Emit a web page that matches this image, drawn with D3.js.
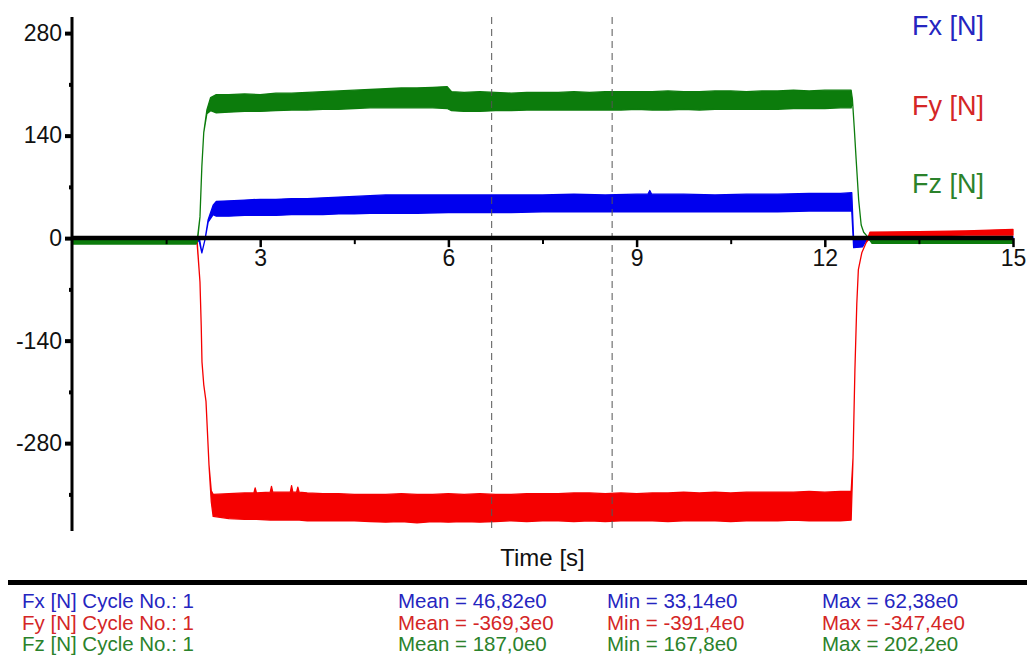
<!DOCTYPE html>
<html>
<head>
<meta charset="utf-8">
<script src="https://cdn.jsdelivr.net/npm/d3@7"></script>
<style>
  body { margin: 0; background: #fff; }
  svg { display: block; font-family: "Liberation Sans", Arial, sans-serif; }
</style>
</head>
<body>
<div id="chart"></div>
<script>
// ticks
const xTicks = [3, 6, 9, 12, 15];
const xMinorTicks = [1.5, 4.5, 7.5, 10.5, 13.5];
const yTicks = [-280, -140, 0, 140, 280];
const yMinorTicks = [-350, -210, -70, 70, 210];
const cursorTimes = [6.69, 8.61];

// Fx: envelope (upper / lower) of the noisy trace
const fxTime = [0, 1.99, 2.03, 2.07, 2.12, 2.17, 2.25, 2.3,
  2.5, 2.75, 3.0, 3.25, 3.5, 3.75, 4.0, 4.25, 4.5, 4.75, 5.0,
  5.5, 6.0, 6.5, 7.0, 7.5, 8.0, 8.5, 9.0, 9.18, 9.21, 9.24,
  9.75, 10.25, 10.75, 11.25, 11.75, 12.25, 12.43, 12.46, 12.60, 12.66, 12.75, 15];
const fxHigh = [2, 2, 0, -20, -2, 25, 45, 50,
  51, 52, 53, 53, 54, 54, 55, 56, 57, 58, 59,
  59, 59, 59, 59, 59, 60, 59, 60, 60, 65, 60,
  60, 59, 60, 60, 61, 61, 62, -3, -3, 0, 2, 2];
const fxLow = [-2, -2, -5, -20, -2, 22, 32, 30,
  30, 31, 31, 31, 32, 32, 32, 33, 33, 34, 34,
  34, 35, 35, 35, 36, 36, 36, 36, 36, 36, 36,
  36, 36, 36, 36, 37, 37, 37, -13, -12, -3, -2, -2];

// Fy
const fyTime = [0, 1.99, 2.025, 2.04, 2.06, 2.072, 2.10, 2.136, 2.184, 2.22, 2.25,
  2.5, 2.75, 2.90, 2.92, 2.94, 3.16, 3.18, 3.20, 3.48, 3.5, 3.52, 3.58, 3.6, 3.62,
  3.75, 4.0, 4.25, 4.5, 4.75, 5.0, 5.25, 5.5, 5.75, 6.0, 6.25, 6.5, 6.75, 7.0, 7.25, 7.5,
  7.75, 8.0, 8.25, 8.5, 8.75, 9.0, 9.25, 9.5, 9.75, 10.0, 10.25, 10.5, 10.75, 11.0, 11.25,
  11.5, 11.75, 12.0, 12.25, 12.42,
  12.45, 12.48, 12.51, 12.535, 12.59, 12.66, 12.72, 13.5, 14.25, 15];
const fyHigh = [2, 2, -42, -60, -120, -169, -200, -223, -310, -345, -350,
  -349, -348, -348, -341, -348, -347, -339, -347, -347, -338, -347, -347, -340, -347,
  -348, -349, -349, -350, -350, -350, -349, -350, -350, -349, -350, -349, -350, -350, -349, -349,
  -349, -348, -348, -349, -348, -349, -348, -348, -347, -348, -347, -348, -347, -347, -347,
  -347, -346, -347, -346, -346,
  -300, -180, -90, -43, -20, -6, 8, 9, 10, 12];
const fyLow = [-2, -2, -42, -60, -120, -169, -200, -223, -310, -360, -380,
  -383, -384, -384, -384, -384, -385, -385, -385, -385, -385, -385, -385, -385, -385,
  -386, -386, -386, -386, -387, -388, -387, -389, -387, -388, -387, -388, -387, -386, -387, -386,
  -386, -387, -386, -387, -386, -386, -386, -387, -386, -386, -386, -387, -386, -386, -386,
  -385, -386, -386, -386, -385,
  -300, -180, -90, -43, -20, -6, 1, 3, 4, 4];

// Fz
const fzTime = [0, 1.98, 2.00, 2.04, 2.07, 2.10, 2.15, 2.21, 2.3,
  2.5, 2.75, 3.0, 3.25, 3.5, 3.75, 4.0, 4.25, 4.5, 4.75, 5.0, 5.25, 5.5, 5.75,
  5.98, 6.05,
  6.25, 6.5, 6.75, 7.0, 7.25, 7.5, 7.75, 8.0, 8.25, 8.5, 8.75, 9.0, 9.25, 9.5, 9.75,
  10.0, 10.25, 10.5, 10.75, 11.0, 11.25, 11.5, 11.75, 12.0, 12.25, 12.42,
  12.44, 12.47, 12.50, 12.54, 12.58, 12.62, 12.68, 12.75, 15];
const fzHigh = [-2, -2, 0, 29, 98, 144, 175, 192, 196,
  196, 197, 196, 198, 198, 199, 200, 201, 202, 203, 204, 205, 205, 206,
  207, 200,
  199, 200, 199, 198, 199, 199, 199, 200, 199, 200, 200, 200, 200, 201, 200,
  200, 201, 201, 200, 201, 201, 202, 201, 202, 202, 202,
  190, 150, 107, 52, 18, 8, 2, -2, -2];
const fzLow = [-8, -8, -4, 29, 98, 144, 170, 174, 171,
  172, 173, 173, 174, 175, 175, 176, 176, 177, 178, 178, 178, 178, 178,
  177, 174,
  173, 173, 174, 174, 175, 175, 175, 175, 175, 175, 175, 176, 175, 175, 176,
  175, 176, 176, 176, 176, 176, 177, 177, 177, 178, 178,
  190, 150, 107, 52, 18, 8, 2, -7, -7];

// statistics block
const statNames = ["Fx [N] Cycle No.: 1", "Fy [N] Cycle No.: 1", "Fz [N] Cycle No.: 1"];
const statMean = ["46,82e0", "-369,3e0", "187,0e0"];
const statMin = ["33,14e0", "-391,4e0", "167,8e0"];
const statMax = ["62,38e0", "-347,4e0", "202,2e0"];
const legendNames = ["Fx [N]", "Fy [N]", "Fz [N]"];

const lineColors = ["#0000ee", "#f50000", "#0c7c0c"];
const textColors = ["#2525c0", "#d42626", "#2b822b"];

const width = 1027;
const height = 666;

const svg = d3.select("#chart")
  .append("svg")
  .attr("width", width)
  .attr("height", height)
  .attr("viewBox", `0 0 ${width} ${height}`);

svg.append("rect").attr("width", width).attr("height", height).attr("fill", "#fff");

const x = d3.scaleLinear().domain([0, 15]).range([72, 1013]);
const y = d3.scaleLinear().domain([-400, 302]).range([531, 17]);

const toRows = (time, hi, lo) => time.map((t, i) => ({ t, hi: hi[i], lo: lo[i] }));

const series = [
  toRows(fxTime, fxHigh, fxLow),
  toRows(fyTime, fyHigh, fyLow),
  toRows(fzTime, fzHigh, fzLow),
];

const band = d3.area()
  .x((d) => x(d.t))
  .y0((d) => y(d.lo))
  .y1((d) => y(d.hi));

// noisy traces drawn as envelope bands
svg.append("g")
  .selectAll("path")
  .data(series)
  .join("path")
  .attr("d", band)
  .attr("fill", (d, i) => lineColors[i])
  .attr("stroke", (d, i) => lineColors[i])
  .attr("stroke-width", 1.3)
  .attr("stroke-linejoin", "round");

// cursor lines
svg.append("g")
  .selectAll("line")
  .data(cursorTimes)
  .join("line")
  .attr("x1", (d) => x(d))
  .attr("x2", (d) => x(d))
  .attr("y1", y.range()[1])
  .attr("y2", y.range()[0])
  .attr("stroke", "#555")
  .attr("stroke-width", 1)
  .attr("stroke-dasharray", "7,5");

// y axis (plain hyphen for negatives, as in the original)
const yAxis = svg.append("g")
  .attr("transform", `translate(${x(0) - 1},0)`)
  .call(d3.axisLeft(y).tickValues(yTicks).tickSize(6).tickPadding(3).tickFormat((d) => String(d)));
yAxis.select(".domain").remove();
yAxis.selectAll(".tick line").attr("stroke", "#000").attr("stroke-width", 4);
yAxis.selectAll(".tick text")
  .attr("font-size", 23)
  .attr("font-family", "Liberation Sans, Arial, sans-serif")
  .attr("fill", "#111");

const yMinor = svg.append("g")
  .attr("transform", `translate(${x(0)},0)`)
  .call(d3.axisLeft(y).tickValues(yMinorTicks).tickSize(3).tickFormat(""));
yMinor.select(".domain").remove();
yMinor.selectAll(".tick line").attr("stroke", "#000").attr("stroke-width", 4);

svg.append("line")
  .attr("x1", x(0)).attr("x2", x(0))
  .attr("y1", y.range()[1]).attr("y2", y.range()[0])
  .attr("stroke", "#000")
  .attr("stroke-width", 3);

// x axis through zero
const xAxis = svg.append("g")
  .attr("transform", `translate(0,${y(0)})`)
  .call(d3.axisBottom(x).tickValues(xTicks).tickSize(9).tickPadding(3).tickFormat((d) => String(d)));
xAxis.select(".domain").remove();
xAxis.selectAll(".tick line").attr("stroke", "#000").attr("stroke-width", 2.5);
xAxis.selectAll(".tick text")
  .attr("font-size", 23)
  .attr("font-family", "Liberation Sans, Arial, sans-serif")
  .attr("fill", "#111");

const xMinor = svg.append("g")
  .attr("transform", `translate(0,${y(0)})`)
  .call(d3.axisBottom(x).tickValues(xMinorTicks).tickSize(6).tickFormat(""));
xMinor.select(".domain").remove();
xMinor.selectAll(".tick line").attr("stroke", "#000").attr("stroke-width", 2);

svg.append("line")
  .attr("x1", x(0)).attr("x2", x(15))
  .attr("y1", y(0)).attr("y2", y(0))
  .attr("stroke", "#000")
  .attr("stroke-width", 4.5);

svg.append("text")
  .attr("x", (x(0) + x(15)) / 2)
  .attr("y", 566)
  .attr("text-anchor", "middle")
  .attr("font-size", 24)
  .attr("fill", "#111")
  .text("Time [s]");

// legend on the right
svg.append("g")
  .selectAll("text")
  .data(legendNames)
  .join("text")
  .attr("x", 912)
  .attr("y", (d, i) => [35, 115, 193][i])
  .attr("font-size", 27)
  .attr("fill", (d, i) => textColors[i])
  .text((d) => d);

// separator and statistics
svg.append("rect")
  .attr("x", 8).attr("y", 580)
  .attr("width", width - 8).attr("height", 5)
  .attr("fill", "#000");

const statCols = [
  { x: 22, fmt: (i) => statNames[i] },
  { x: 398, fmt: (i) => `Mean = ${statMean[i]}` },
  { x: 607, fmt: (i) => `Min = ${statMin[i]}` },
  { x: 822, fmt: (i) => `Max = ${statMax[i]}` },
];

const statRows = svg.append("g")
  .selectAll("g")
  .data(statNames)
  .join("g")
  .attr("transform", (d, i) => `translate(0,${608 + i * 21.5})`);

statCols.forEach((col) => {
  statRows.append("text")
    .attr("x", col.x)
    .attr("font-size", 20.5)
    .attr("fill", (d, i) => textColors[i])
    .text((d, i) => col.fmt(i));
});
</script>
</body>
</html>
